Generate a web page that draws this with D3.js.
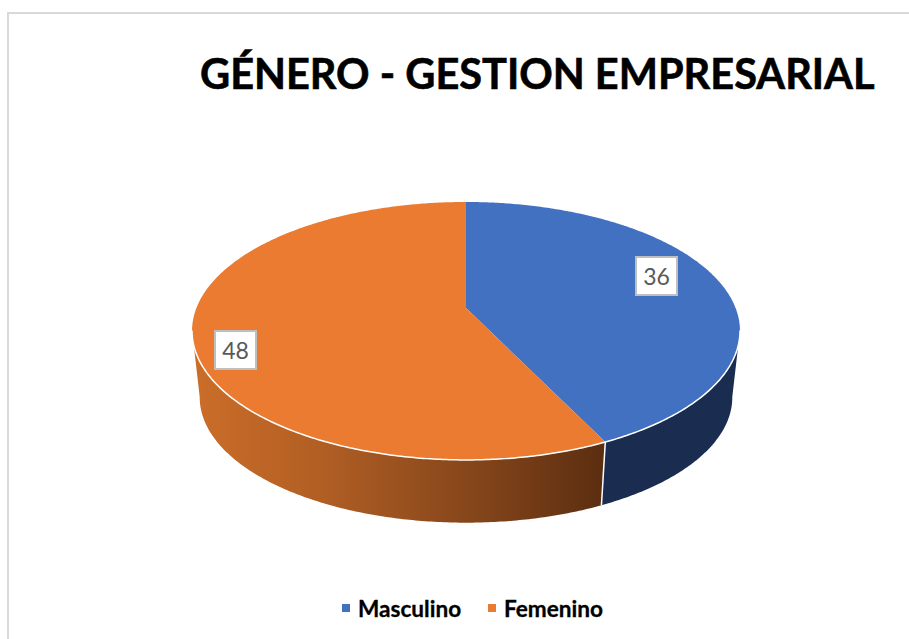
<!DOCTYPE html>
<html>
<head>
<meta charset="utf-8">
<script src="https://cdn.jsdelivr.net/npm/d3@7"></script>
<style>
    html, body { margin: 0; padding: 0; background: #fff; }
    svg { display: block; }
    text { font-family: Lato, "Open Sans", sans-serif; }
</style>
</head>
<body>
<svg id="chart" width="909" height="639"></svg>
<script>
const title = 'GÉNERO - GESTION EMPRESARIAL';
const categories = ['Masculino', 'Femenino'];
const values = [36, 48];
const topColors = ['#4371c2', '#eb7b30'];

const svg = d3.select('#chart');
const color = d3.scaleOrdinal(categories, topColors);

// perspective disc: apex of the slices is above the middle of the ellipse
const cx = 466, cy = 308, rimX = 269.6, rimY = 124.9, tilt = 0.178;
const shrink = 0.972, drop = 67;

function project(t, r, low) {
    const u = r * Math.sin(t), v = -r * Math.cos(t), w = 1 - tilt * v;
    const x = rimX * u / w, y = rimY * v / w;
    return low ? [cx + shrink * x, cy + drop + shrink * y] : [cx + x, cy + y];
}

function arcPoints(a0, a1, low) {
    const n = Math.max(2, Math.ceil((a1 - a0) / 0.01));
    return d3.range(n + 1).map(i => project(a0 + (a1 - a0) * i / n, 1, low));
}

const line = d3.line();
const pie = d3.pie().sort(null).value(d => d);
const slices = pie(values);

// chart frame, only top and left are on the picture
svg.append('path')
    .attr('d', 'M8,639V13H909')
    .attr('fill', 'none')
    .attr('stroke', '#d9d9d9')
    .attr('stroke-width', 2);

const defs = svg.append('defs');
const grad = defs.append('linearGradient')
    .attr('id', 'sideOrange')
    .attr('gradientUnits', 'userSpaceOnUse')
    .attr('x1', 195).attr('x2', 605).attr('y1', 0).attr('y2', 0);
grad.append('stop').attr('offset', 0).attr('stop-color', '#cb6d29');
grad.append('stop').attr('offset', 0.3).attr('stop-color', '#b25f24');
grad.append('stop').attr('offset', 0.7).attr('stop-color', '#82441a');
grad.append('stop').attr('offset', 1).attr('stop-color', '#5b2e10');

// side wall, only the front half of the rim can be seen
const sideFrom = 100 * Math.PI / 180, sideTo = 260 * Math.PI / 180;
const sideFill = ['#1a2d50', 'url(#sideOrange)'];

svg.selectAll('path.side')
    .data(slices)
    .enter().append('path')
    .attr('class', 'side')
    .attr('fill', (d, i) => sideFill[i])
    .attr('d', d => {
        const a0 = Math.max(d.startAngle, sideFrom), a1 = Math.min(d.endAngle, sideTo);
        return line(arcPoints(a0, a1, false).concat(arcPoints(a0, a1, true).reverse())) + 'Z';
    });

// white seam between the two walls
const seam = slices[0].endAngle;
svg.append('path')
    .attr('d', line([project(seam, 1, false), project(seam, 1, true)]))
    .attr('stroke', '#fff')
    .attr('stroke-width', 1.5);

// top faces
svg.selectAll('path.face')
    .data(slices)
    .enter().append('path')
    .attr('class', 'face')
    .attr('fill', (d, i) => color(categories[i]))
    .attr('d', d => line([[cx, cy]].concat(arcPoints(d.startAngle, d.endAngle, false))) + 'Z');

// white edge along the front of the top face
svg.append('path')
    .attr('d', line(arcPoints(sideFrom, sideTo, false)))
    .attr('fill', 'none')
    .attr('stroke', '#fff')
    .attr('stroke-width', 1.5);

// data labels were placed by hand in the original
const labelBoxes = [[636, 257], [215, 331]];
const labels = svg.selectAll('g.label')
    .data(values)
    .enter().append('g')
    .attr('class', 'label')
    .attr('transform', (d, i) => `translate(${labelBoxes[i]})`);

labels.append('rect')
    .attr('width', 41)
    .attr('height', 38)
    .attr('fill', '#fff')
    .attr('stroke', '#bfbfbf')
    .attr('stroke-width', 2);

labels.append('text')
    .attr('x', 20.5)
    .attr('y', 28)
    .attr('text-anchor', 'middle')
    .attr('font-size', 23)
    .attr('fill', '#595959')
    .text(d => d);

svg.append('text')
    .attr('x', 200)
    .attr('y', 89)
    .attr('font-size', 41.5)
    .attr('font-weight', 700)
    .attr('fill', '#000')
    .attr('stroke', '#000')
    .attr('stroke-width', 0.6)
    .text(title);

// legend
const legendX = [342, 488];
const legend = svg.selectAll('g.legend')
    .data(categories)
    .enter().append('g')
    .attr('class', 'legend')
    .attr('transform', (d, i) => `translate(${legendX[i]},604)`);

legend.append('rect')
    .attr('width', 8)
    .attr('height', 8)
    .attr('fill', d => color(d));

legend.append('text')
    .attr('x', 16)
    .attr('y', 12.5)
    .attr('font-size', 22.6)
    .attr('font-weight', 700)
    .attr('fill', '#000')
    .attr('stroke', '#000')
    .attr('stroke-width', 0.3)
    .text(d => d);
</script>
</body>
</html>
